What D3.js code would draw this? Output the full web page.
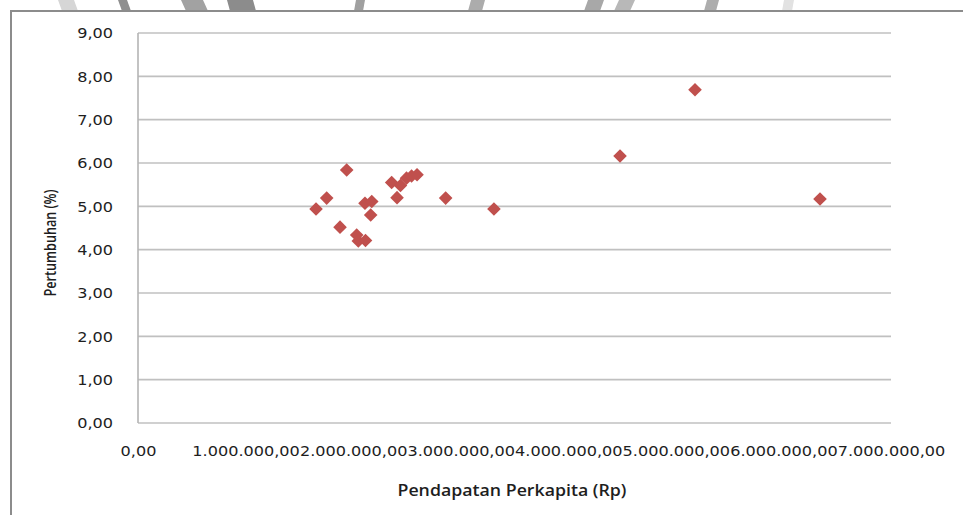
<!DOCTYPE html>
<html>
<head>
<meta charset="utf-8">
<script src="https://cdn.jsdelivr.net/npm/d3@7"></script>
<style>
  html, body { margin: 0; padding: 0; background: #fff; }
  svg { display: block; }
</style>
</head>
<body>
<svg id="chart" width="963" height="515"></svg>
<script>
// Per-capita income (Rp) against growth (%) for each region
const incomeRp = [
  1655000, 1754000, 1878000, 1940000, 2033000, 2048000, 2115000,
  2110000, 2173000, 2163000, 2358000, 2408000, 2440000, 2496000,
  2543000, 2594000, 2860000, 3309000, 4481000, 5178000, 6340000
];
const growthPct = [
  4.94, 5.19, 4.52, 5.84, 4.34, 4.20, 4.21,
  5.07, 5.11, 4.80, 5.55, 5.20, 5.48, 5.65,
  5.70, 5.73, 5.19, 4.94, 6.16, 7.69, 5.17
];
const xTicks = [0, 1000000, 2000000, 3000000, 4000000, 5000000, 6000000, 7000000];
const yTicks = [0, 1, 2, 3, 4, 5, 6, 7, 8, 9];
const xTitle = "Pendapatan Perkapita (Rp)";
const yTitle = "Pertumbuhan (%)";

const idLocale = d3.formatLocale({ decimal: ",", thousands: ".", grouping: [3], currency: ["Rp", ""] });
const fmtX = idLocale.format(",.2f");
const fmtY = idLocale.format(".2f");

const svg = d3.select("#chart");
const plot = { left: 138, right: 891, top: 33, bottom: 423 };

// faint logo strokes peeking over the top edge of the frame: [x, width, skew, colour]
const marks = [[62, 16, -4, "#d6d6d6"], [122, 9, -4, "#8f8f8f"], [186, 22, -5, "#a2a2a2"], [230, 26, -3, "#8c8c8c"],
               [354, 9, 2, "#a0a0a0"], [468, 14, 3, "#acacac"], [584, 16, 4, "#a8a8a8"], [614, 16, 5, "#b8b8b8"],
               [704, 12, 3, "#adadad"], [782, 10, 2, "#e2e2e2"]];
svg.append("g").selectAll("path").data(marks).join("path")
  .attr("d", d => `M${d[0] + d[2]},0L${d[0] + d[2] + d[1]},0L${d[0] + d[1]},11L${d[0]},11Z`)
  .attr("fill", d => d[3]);

// outer frame
svg.append("rect")
  .attr("x", 11).attr("y", 11).attr("width", 970).attr("height", 520)
  .attr("fill", "#fff").attr("stroke", "#8c8c8c").attr("stroke-width", 2);

const x = d3.scaleLinear().domain([0, 7000000]).range([plot.left, plot.right]);
const y = d3.scaleLinear().domain([0, 9]).range([plot.bottom, plot.top]);

// horizontal gridlines
svg.append("g").selectAll("line").data(yTicks).join("line")
  .attr("x1", plot.left).attr("x2", plot.right)
  .attr("y1", d => y(d)).attr("y2", d => y(d))
  .attr("stroke", "#c0c0c0").attr("stroke-width", 1.6);

// vertical axis line
svg.append("line")
  .attr("x1", plot.left).attr("x2", plot.left)
  .attr("y1", plot.top).attr("y2", plot.bottom)
  .attr("stroke", "#b4b4b4").attr("stroke-width", 1.6);

const labelFont = "'DejaVu Sans', Verdana, sans-serif";

// y axis labels
const yAxis = svg.append("g").attr("transform", `translate(${plot.left},0)`)
  .call(d3.axisLeft(y).tickValues(yTicks).tickFormat(fmtY).tickSize(0).tickPadding(0));
yAxis.select(".domain").remove();
yAxis.selectAll("text")
  .attr("x", -25 / 1.15).attr("dy", "0.34em")
  .attr("transform", "scale(1.15,1)")
  .style("font-family", labelFont).style("font-size", "14px").attr("fill", "#1e1e1e");

// x axis labels
const xAxis = svg.append("g").attr("transform", `translate(0,${plot.bottom})`)
  .call(d3.axisBottom(x).tickValues(xTicks).tickFormat(fmtX).tickSize(0).tickPadding(0));
xAxis.select(".domain").remove();
xAxis.selectAll("text")
  .attr("y", 28).attr("dy", "0.34em")
  .attr("transform", "scale(1.15,1)")
  .style("font-family", labelFont).style("font-size", "14px").attr("fill", "#1e1e1e");

// axis titles
const titleFont = "'Open Sans', 'Noto Sans', sans-serif";
svg.append("text")
  .attr("transform", "translate(56,243) rotate(-90)")
  .attr("text-anchor", "middle")
  .attr("textLength", 107).attr("lengthAdjust", "spacingAndGlyphs")
  .style("font-family", titleFont).style("font-weight", 600).style("font-size", "15.5px")
  .attr("fill", "#1e1e1e")
  .text(yTitle);

svg.append("text")
  .attr("x", 512).attr("y", 496)
  .attr("text-anchor", "middle")
  .attr("textLength", 229).attr("lengthAdjust", "spacingAndGlyphs")
  .style("font-family", titleFont).style("font-weight", 600).style("font-size", "16.5px")
  .attr("fill", "#1e1e1e")
  .text(xTitle);

// diamond markers
const pts = incomeRp.map((v, i) => ({ inc: v, gr: growthPct[i] }));
const r = 6.8;
svg.append("g").selectAll("path").data(pts).join("path")
  .attr("d", d => {
    const cx = x(d.inc), cy = y(d.gr);
    return `M${cx},${cy - r}L${cx + r},${cy}L${cx},${cy + r}L${cx - r},${cy}Z`;
  })
  .attr("fill", "#c0504d");
</script>
</body>
</html>
